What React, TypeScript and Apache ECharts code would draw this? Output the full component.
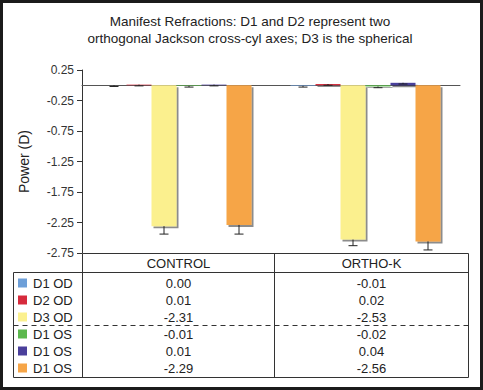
import React, { useEffect, useRef } from "react";
import * as echarts from "echarts";

const categories = ["CONTROL", "ORTHO-K"];
const seriesNames = ["D1 OD", "D2 OD", "D3 OD", "D1 OS", "D1 OS", "D1 OS"];
const seriesColors = ["#6d9fd8", "#d62a3c", "#fbf08e", "#5cb84e", "#4a3f9b", "#f6a547"];
const controlValues = [0.0, 0.01, -2.31, -0.01, 0.01, -2.29];
const orthoValues = [-0.01, 0.02, -2.53, -0.02, 0.04, -2.56];
const controlErrors = [0.02, 0.02, 0.13, 0.02, 0.02, 0.15];
const orthoErrors = [0.02, 0.02, 0.1, 0.02, 0.02, 0.14];
const yTicks = [0.25, -0.25, -0.75, -1.25, -1.75, -2.25, -2.75];

const BAR_W = 25;
const FONT = "Liberation Sans, Arial, sans-serif";

export default function App() {
  const ref = useRef<HTMLDivElement>(null);

  useEffect(() => {
    if (!ref.current) return;
    const chart = echarts.init(ref.current, null, { renderer: "svg" });

    const barSeries = seriesNames.map((name, i) => ({
      type: "bar",
      name,
      data: [controlValues[i], orthoValues[i]],
      barWidth: BAR_W,
      barGap: "0%",
      itemStyle: {
        color: seriesColors[i],
        shadowColor: "rgba(0,0,0,0.45)",
        shadowOffsetX: 2,
        shadowOffsetY: 2,
        shadowBlur: 1,
      },
      z: 2,
    }));

    const errData: number[][] = [];
    seriesNames.forEach((_, i) => {
      errData.push([0, i, controlValues[i], controlErrors[i]]);
      errData.push([1, i, orthoValues[i], orthoErrors[i]]);
    });

    const errSeries = {
      type: "custom",
      data: errData,
      z: 5,
      renderItem: (params: any, api: any) => {
        const cat = api.value(0);
        const idx = api.value(1);
        const v = api.value(2);
        const e = api.value(3);
        const p0 = api.coord([cat, v]);
        const p1 = api.coord([cat, v - e]);
        const x = p0[0] + (idx - 2.5) * BAR_W;
        const style = { stroke: "#222", lineWidth: 1 };
        return {
          type: "group",
          children: [
            { type: "line", shape: { x1: x, y1: p0[1], x2: x, y2: p1[1] }, style },
            { type: "line", shape: { x1: x - 4.5, y1: p1[1], x2: x + 4.5, y2: p1[1] }, style },
          ],
        };
      },
    };

    const line = (x1: number, y1: number, x2: number, y2: number, dash?: number[]) => ({
      type: "line",
      shape: { x1, y1, x2, y2 },
      style: { stroke: "#333", lineWidth: 1, lineDash: dash },
      silent: true,
    });
    const text = (t: string, x: number, y: number, align: string) => ({
      type: "text",
      x,
      y,
      style: {
        text: t,
        align,
        verticalAlign: "middle",
        fill: "#222",
        fontSize: 13,
        fontFamily: FONT,
      },
      silent: true,
    });

    const colX = [82.5, 274.5, 468.5];
    const graphics: any[] = [
      { type: "rect", shape: { x: 1.5, y: 1.5, width: 480, height: 387 }, style: { fill: "none", stroke: "#1b1b1b", lineWidth: 3 }, silent: true },
      line(82.5, 253.5, 468.5, 253.5),
      line(13.5, 272.5, 468.5, 272.5),
      line(13.5, 377.5, 468.5, 377.5),
      line(13.5, 272.5, 13.5, 377.5),
      line(82.5, 253.5, 82.5, 377.5),
      line(274.5, 253.5, 274.5, 377.5),
      line(468.5, 253.5, 468.5, 377.5),
      line(13.5, 325.5, 468.5, 325.5, [5, 4]),
      text(categories[0], (colX[0] + colX[1]) / 2, 263, "center"),
      text(categories[1], (colX[1] + colX[2]) / 2, 263, "center"),
      {
        type: "text",
        x: 250,
        y: 21,
        style: {
          text: "Manifest Refractions: D1 and D2 represent two",
          align: "center",
          verticalAlign: "middle",
          fill: "#222",
          fontSize: 13.5,
          fontFamily: FONT,
        },
        silent: true,
      },
      {
        type: "text",
        x: 250,
        y: 38,
        style: {
          text: "orthogonal Jackson cross-cyl axes; D3 is the spherical",
          align: "center",
          verticalAlign: "middle",
          fill: "#222",
          fontSize: 13.5,
          fontFamily: FONT,
        },
        silent: true,
      },
    ];
    seriesNames.forEach((name, i) => {
      const y = 283 + i * 17;
      graphics.push({
        type: "rect",
        shape: { x: 18, y: y - 4.5, width: 9, height: 9 },
        style: { fill: seriesColors[i] },
        silent: true,
      });
      graphics.push(text(name, 33, y, "left"));
      graphics.push(text(controlValues[i].toFixed(2), (colX[0] + colX[1]) / 2, y, "center"));
      graphics.push(text(orthoValues[i].toFixed(2), (colX[1] + colX[2]) / 2, y, "center"));
    });

    chart.setOption({
      animation: false,
      backgroundColor: "#ffffff",
      grid: { left: 82, top: 70, width: 378, height: 183, containLabel: false },
      xAxis: {
        type: "category",
        data: categories,
        axisLabel: { show: false },
        axisTick: { show: false },
        axisLine: { onZero: true, lineStyle: { color: "#555", width: 1 } },
        splitLine: { show: false },
      },
      yAxis: {
        type: "value",
        min: yTicks[yTicks.length - 1],
        max: yTicks[0],
        interval: 0.5,
        name: "Power (D)",
        nameLocation: "middle",
        nameGap: 51,
        nameTextStyle: { fontSize: 14, color: "#222", fontFamily: FONT },
        axisLine: { show: true, onZero: false, lineStyle: { color: "#333", width: 1 } },
        axisTick: { show: true, length: 5, lineStyle: { color: "#333" } },
        axisLabel: {
          fontSize: 12,
          color: "#333",
          margin: 8,
          fontFamily: FONT,
          formatter: (v: number) => v.toFixed(2),
        },
        splitLine: { show: false },
      },
      series: [...barSeries, errSeries],
      graphic: graphics,
    });

    return () => chart.dispose();
  }, []);

  return (
    <div
      ref={ref}
      style={{ position: "fixed", left: 0, top: 0, width: 483, height: 390, background: "#fff" }}
    />
  );
}
